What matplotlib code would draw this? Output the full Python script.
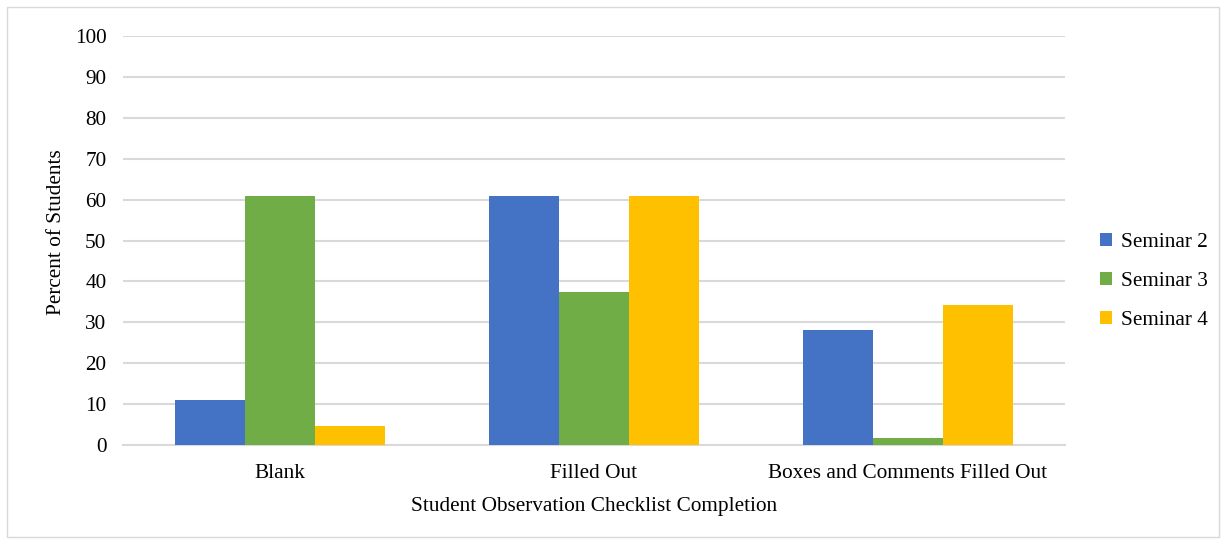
import matplotlib.pyplot as plt
import numpy as np
from matplotlib.patches import Rectangle

plt.rcParams['font.family'] = ['Liberation Serif', 'DejaVu Serif']

categories = ['Blank', 'Filled Out', 'Boxes and Comments Filled Out']
seminars = ['Seminar 2', 'Seminar 3', 'Seminar 4']
seminar_2 = [11.0, 61.0, 28.0]
seminar_3 = [61.0, 37.4, 1.6]
seminar_4 = [4.6, 61.0, 34.3]
colors = ['#4472C4', '#70AD47', '#FFC000']

fs = 15.3
fig = plt.figure(figsize=(12.26, 5.44), dpi=100)
ax = fig.add_axes([123 / 1226, 1 - 445 / 544, 942 / 1226, 409 / 544])

x = np.arange(len(categories))
w = 0.223
for i, (name, vals) in enumerate(zip(seminars, [seminar_2, seminar_3, seminar_4])):
    ax.bar(x + (i - 1) * w, vals, width=w, color=colors[i], label=name, zorder=3)

ax.set_xlim(-0.5, 2.5)
ax.set_ylim(0, 100)
ax.set_yticks(range(0, 101, 10))
ax.set_xticks(x)
ax.set_xticklabels(categories)
ax.grid(axis='y', color='#d9d9d9', linewidth=1.5, zorder=0)
ax.tick_params(length=0, labelsize=fs)
ax.tick_params(axis='y', pad=12)
ax.tick_params(axis='x', pad=14)
for s in ['top', 'right', 'left']:
    ax.spines[s].set_visible(False)
ax.spines['bottom'].set_color('#d9d9d9')
ax.spines['bottom'].set_linewidth(1.5)

ax.set_xlabel('Student Observation Checklist Completion', fontsize=fs, labelpad=10)
ax.set_ylabel('Percent of Students', fontsize=fs)
ax.yaxis.set_label_coords(-0.06, 0.52)

ax.legend(loc='center left', bbox_to_anchor=(1.028, 0.40), frameon=False,
          fontsize=fs, handlelength=0.55, handleheight=0.55, handletextpad=0.45,
          labelspacing=0.95, borderaxespad=0)

fig.patches.append(Rectangle((7 / 1226, 7 / 544), 1212 / 1226, 530 / 544,
                             transform=fig.transFigure, fill=False,
                             edgecolor='#d9d9d9', linewidth=1))

fig.savefig('out.png', dpi=100)
